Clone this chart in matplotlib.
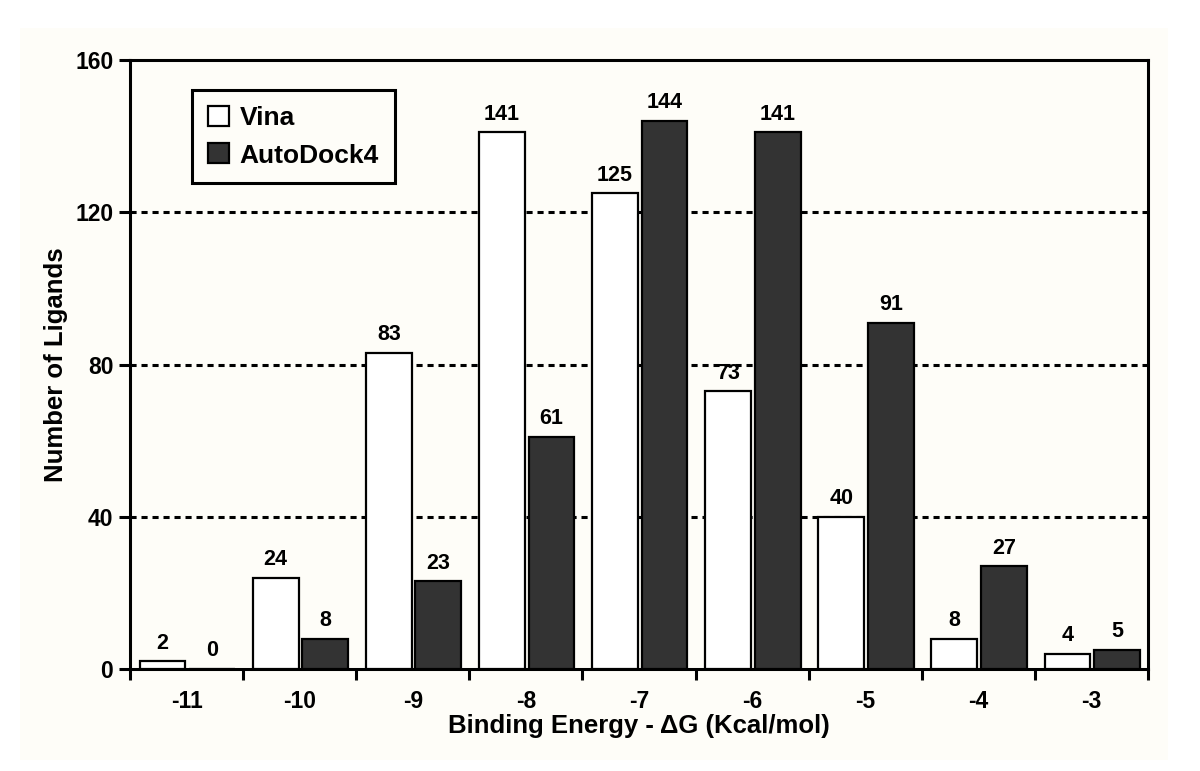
import matplotlib
matplotlib.use("Agg")
import matplotlib.pyplot as plt
import numpy as np
from matplotlib.patches import Rectangle, Patch

categories = ["-11", "-10", "-9", "-8", "-7", "-6", "-5", "-4", "-3"]
vina = [2, 24, 83, 141, 125, 73, 40, 8, 4]
autodock4 = [0, 8, 23, 61, 144, 141, 91, 27, 5]
yticks = [0, 40, 80, 120, 160]

plt.rcParams['font.family'] = ['Liberation Sans', 'DejaVu Sans']
plt.rcParams['font.weight'] = 'bold'

cream = '#fefdf8'
fig = plt.figure(figsize=(12, 7.71), dpi=100, facecolor='white')
fig.patches.append(Rectangle((20/1200, 11/771), 1148/1200, 732/771,
                             transform=fig.transFigure, facecolor=cream,
                             edgecolor='none', zorder=-10))
ax = fig.add_axes([130/1200, 102/771, 1018/1200, 609/771])
ax.set_facecolor(cream)

x = np.arange(len(categories))
w = 0.405
ax.bar(x - 0.212, vina, w, color='white', edgecolor='black', linewidth=1.6, zorder=3)
ax.bar(x + 0.226, autodock4, w, color='#333333', edgecolor='black', linewidth=1.6, zorder=3)

for xi, v in zip(x - 0.212, vina):
    ax.annotate(str(v), (xi, v), xytext=(0, 5.5), textcoords='offset points',
                ha='center', va='bottom', fontsize=15.5, fontweight='bold')
for xi, v in zip(x + 0.226, autodock4):
    ax.annotate(str(v), (xi, v), xytext=(0, 5.5), textcoords='offset points',
                ha='center', va='bottom', fontsize=15.5, fontweight='bold')

ax.set_xlim(-0.5, len(categories) - 0.5)
ax.set_ylim(0, 160)
ax.set_yticks(yticks)
ax.set_yticklabels([str(t) for t in yticks], fontsize=16.5, fontweight='bold')

for yv in yticks[1:-1]:
    ax.axhline(yv, color='black', linewidth=2.2, dashes=(2, 1.6), zorder=1)

ax.set_xticks(np.arange(len(categories) + 1) - 0.5)
ax.set_xticklabels([])
ax.set_xticks(x, minor=True)
ax.set_xticklabels(categories, minor=True, fontsize=16.5, fontweight='bold')
ax.tick_params(axis='x', which='major', direction='out', length=8, width=2.2)
ax.tick_params(axis='x', which='minor', length=0, pad=15)
ax.tick_params(axis='y', direction='out', length=8, width=2.2, pad=4)

for s in ax.spines.values():
    s.set_linewidth(2.2)

ax.set_ylabel("Number of Ligands", fontsize=18.5, fontweight='bold', labelpad=5)
ax.set_xlabel("Binding Energy - \u0394G (Kcal/mol)", fontsize=18.5, fontweight='bold', labelpad=1)

handles = [Patch(facecolor='white', edgecolor='black', linewidth=1.6),
           Patch(facecolor='#333333', edgecolor='black', linewidth=1.6)]
leg = ax.legend(handles, ["Vina", "AutoDock4"], loc='upper left',
                bbox_to_anchor=(192/1200, (771-90)/771), bbox_transform=fig.transFigure,
                borderaxespad=0, fancybox=False, framealpha=1, edgecolor='black', facecolor=cream,
                prop={'size': 19, 'weight': 'bold'}, handlelength=0.8, handleheight=0.8,
                handletextpad=0.4, borderpad=0.6, labelspacing=0.5)
leg.get_frame().set_linewidth(2.2)
leg.set_zorder(5)

fig.savefig("out.png", dpi=100, facecolor='white')
